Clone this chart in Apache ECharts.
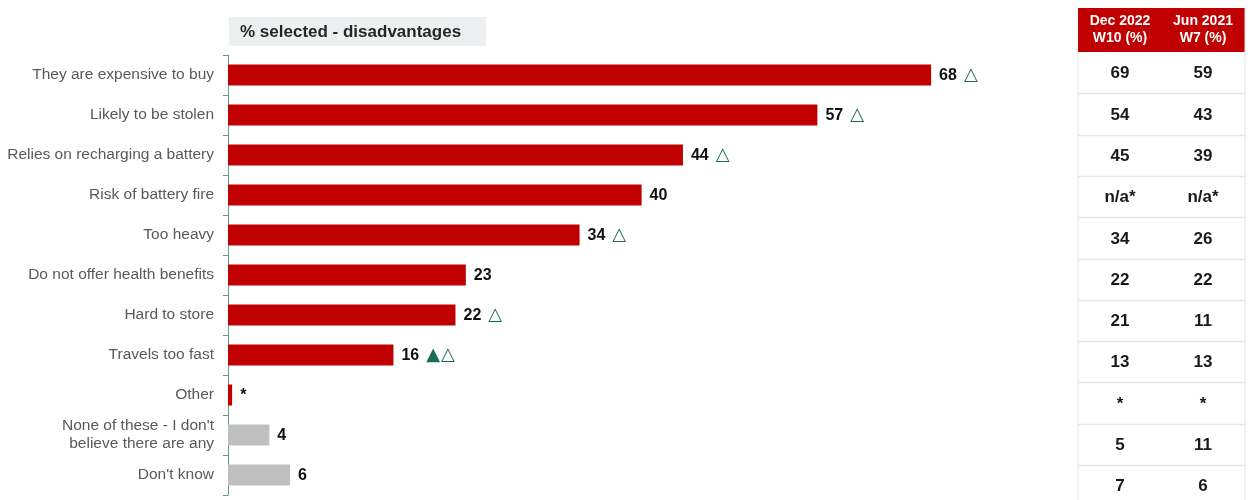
<!DOCTYPE html>
<html>
<head>
<meta charset="utf-8">
<script src="https://cdn.jsdelivr.net/npm/echarts@6/dist/echarts.min.js"></script>
<style>
  html, body { margin: 0; padding: 0; background: #ffffff; }
  #chart { width: 1258px; height: 500px; }
</style>
</head>
<body>
<div id="chart"></div>
<script>
// Disadvantages of e-bikes, % selected (current wave) with comparison table
const categories = [
  'They are expensive to buy',
  'Likely to be stolen',
  'Relies on recharging a battery',
  'Risk of battery fire',
  'Too heavy',
  'Do not offer health benefits',
  'Hard to store',
  'Travels too fast',
  'Other',
  "None of these - I don't\nbelieve there are any",
  "Don't know"
];
const currentWave = [68, 57, 44, 40, 34, 23, 22, 16, 0.4, 4, 6];
const valueLabels = ['68', '57', '44', '40', '34', '23', '22', '16', '*', '4', '6'];
// significance markers: filled = vs Dec 2022, hollow = vs Jun 2021
const filledMarks = [0, 0, 0, 0, 0, 0, 0, 1, 0, 0, 0];
const hollowMarks = [1, 1, 1, 0, 1, 0, 1, 1, 0, 0, 0];
const neutralRows = [0, 0, 0, 0, 0, 0, 0, 0, 0, 1, 1];

const tableHeaders = ['Dec 2022\nW10 (%)', 'Jun 2021\nW7 (%)'];
const waveDec2022 = ['69', '54', '45', 'n/a*', '34', '22', '21', '13', '*', '5', '7'];
const waveJun2021 = ['59', '43', '39', 'n/a*', '26', '22', '11', '13', '*', '11', '6'];

const RED = '#c00000';
const GREY = '#bfbfbf';
const GREEN = '#1b6b56';
const FONT = '"Liberation Sans", Arial, sans-serif';

const chart = echarts.init(document.getElementById('chart'));

// comparison table on the right
const tableX = 1078, tableW = 167, headTop = 8, headBottom = 52, rowH = 41.3;
const colCenters = [1120, 1203];
const tableGraphics = [];
tableGraphics.push({
  type: 'rect', shape: { x: tableX, y: headTop, width: tableW, height: headBottom - headTop },
  style: { fill: RED }, silent: true
});
tableHeaders.forEach((h, c) => {
  tableGraphics.push({
    type: 'text', x: colCenters[c], y: (headTop + headBottom) / 2,
    style: { text: h, fill: '#ffffff', font: 'bold 14px ' + FONT,
      align: 'center', verticalAlign: 'middle', lineHeight: 17 }
  });
});
tableGraphics.push({ type: 'line', shape: { x1: tableX, y1: headBottom, x2: tableX, y2: 500 },
  style: { stroke: '#e6e8e8', lineWidth: 1 } });
tableGraphics.push({ type: 'line', shape: { x1: tableX + tableW, y1: headTop, x2: tableX + tableW, y2: 500 },
  style: { stroke: '#e6e8e8', lineWidth: 1 } });
[waveDec2022, waveJun2021].forEach((col, c) => {
  col.forEach((v, i) => {
    tableGraphics.push({
      type: 'text', x: colCenters[c], y: headBottom + rowH * (i + 0.5) + 1,
      style: { text: v, fill: '#1a1a1a', font: 'bold 17px ' + FONT,
        align: 'center', verticalAlign: 'middle' }
    });
  });
});
for (let i = 1; i < waveDec2022.length; i++) {
  const y = Math.round(headBottom + rowH * i) + 0.5;
  tableGraphics.push({ type: 'line', shape: { x1: tableX, y1: y, x2: tableX + tableW, y2: y },
    style: { stroke: '#e6e8e8', lineWidth: 1.5 } });
}

// heading box above the bars
const headingGraphics = [
  { type: 'rect', shape: { x: 229, y: 17, width: 257, height: 29 }, style: { fill: '#edf0f0' }, silent: true },
  { type: 'text', x: 240, y: 32, style: { text: '% selected - disadvantages', fill: '#262626',
      font: 'bold 17px ' + FONT, verticalAlign: 'middle' } }
];

chart.setOption({
  animation: false,
  grid: { left: 228, top: 55, height: 440, width: 775.5, containLabel: false },
  xAxis: { type: 'value', min: 0, max: 75, show: false },
  yAxis: {
    type: 'category', data: categories, inverse: true,
    axisLine: { show: true, lineStyle: { color: '#5f9c8c', width: 1 } },
    axisTick: { show: true, length: 5, lineStyle: { color: '#5f9c8c' } },
    axisLabel: { color: '#595959', fontSize: 15.5, margin: 14, lineHeight: 18, fontFamily: FONT }
  },
  series: [{
    type: 'bar',
    data: currentWave.map((v, i) => ({ value: v, itemStyle: { color: neutralRows[i] ? GREY : RED } })),
    barWidth: 21,
    label: {
      show: true, position: 'right', distance: 8,
      formatter: p => {
        const i = p.dataIndex;
        let s = '{v|' + valueLabels[i] + '}';
        if (filledMarks[i]) s += '{f|▲}';
        if (hollowMarks[i]) s += filledMarks[i] ? '{h2|△}' : '{h|△}';
        return s;
      },
      rich: {
        v: { fontSize: 16, fontWeight: 'bold', color: '#111111', fontFamily: FONT, padding: [2, 0, 0, 0] },
        f: { fontSize: 18, color: GREEN, fontFamily: '"DejaVu Sans"', padding: [0, 0, 0, 7] },
        h: { fontSize: 18, color: GREEN, fontFamily: '"DejaVu Sans"', padding: [0, 0, 0, 7] },
        h2: { fontSize: 18, color: GREEN, fontFamily: '"DejaVu Sans"', padding: [0, 0, 0, 1] }
      }
    }
  }],
  graphic: headingGraphics.concat(tableGraphics)
});
</script>
</body>
</html>
